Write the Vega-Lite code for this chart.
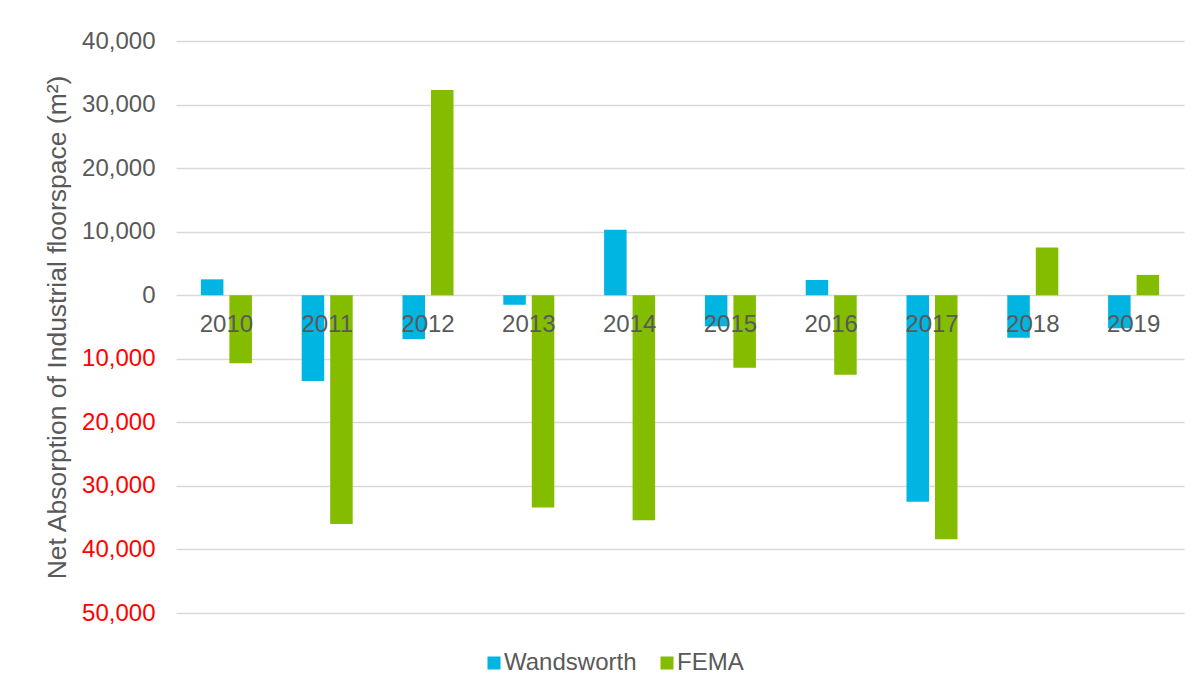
{
  "$schema": "https://vega.github.io/schema/vega-lite/v6.json",
  "autosize": {"type": "none"},
  "width": 1008,
  "height": 572,
  "padding": {"left": 176, "top": 41, "right": 19, "bottom": 80},
  "background": "white",
  "config": {
    "font": "Liberation Sans",
    "view": {"stroke": null}
  },
  "data": {
    "values": [
      {"year": "2010", "series": "Wandsworth", "value": 2500},
      {"year": "2010", "series": "FEMA", "value": -10700},
      {"year": "2011", "series": "Wandsworth", "value": -13500},
      {"year": "2011", "series": "FEMA", "value": -36000},
      {"year": "2012", "series": "Wandsworth", "value": -6900},
      {"year": "2012", "series": "FEMA", "value": 32300},
      {"year": "2013", "series": "Wandsworth", "value": -1500},
      {"year": "2013", "series": "FEMA", "value": -33400},
      {"year": "2014", "series": "Wandsworth", "value": 10300},
      {"year": "2014", "series": "FEMA", "value": -35400},
      {"year": "2015", "series": "Wandsworth", "value": -4900},
      {"year": "2015", "series": "FEMA", "value": -11400},
      {"year": "2016", "series": "Wandsworth", "value": 2400},
      {"year": "2016", "series": "FEMA", "value": -12500},
      {"year": "2017", "series": "Wandsworth", "value": -32500},
      {"year": "2017", "series": "FEMA", "value": -38400},
      {"year": "2018", "series": "Wandsworth", "value": -6700},
      {"year": "2018", "series": "FEMA", "value": 7500},
      {"year": "2019", "series": "Wandsworth", "value": -5200},
      {"year": "2019", "series": "FEMA", "value": 3200}
    ]
  },
  "mark": {"type": "bar"},
  "encoding": {
    "x": {
      "field": "year",
      "type": "nominal",
      "scale": {"paddingInner": 0.494, "paddingOuter": 0.247},
      "axis": {
        "title": null,
        "orient": "bottom",
        "offset": -318,
        "domain": false,
        "ticks": false,
        "labelAngle": 0,
        "labelFontSize": 24,
        "labelColor": "#595959",
        "labelPadding": 17,
        "zindex": 1
      }
    },
    "xOffset": {
      "field": "series",
      "type": "nominal",
      "sort": ["Wandsworth", "FEMA"],
      "scale": {"domain": ["Wandsworth", "FEMA"], "paddingInner": 0.21, "paddingOuter": 0}
    },
    "y": {
      "field": "value",
      "type": "quantitative",
      "scale": {"domain": [-50000, 40000], "nice": false},
      "axis": {
        "title": "Net Absorption of Industrial floorspace (m²)",
        "titleFontSize": 26.5,
        "titleFontWeight": "normal",
        "titleColor": "#595959",
        "titlePadding": 10,
        "values": [-50000, -40000, -30000, -20000, -10000, 0, 10000, 20000, 30000, 40000],
        "labelExpr": "format(abs(datum.value), ',')",
        "labelFontSize": 24,
        "labelColor": {"condition": {"test": "datum.value < 0", "value": "#FF0000"}, "value": "#595959"},
        "labelPadding": 21,
        "domain": false,
        "ticks": false,
        "grid": true,
        "gridColor": "#D9D9D9",
        "gridWidth": 1.3
      }
    },
    "color": {
      "field": "series",
      "type": "nominal",
      "sort": ["Wandsworth", "FEMA"],
      "scale": {"domain": ["Wandsworth", "FEMA"], "range": ["#00B5E2", "#84BD00"]},
      "legend": {
        "title": null,
        "orient": "none",
        "direction": "horizontal",
        "legendX": 306,
        "legendY": 610,
        "symbolType": "square",
        "symbolSize": 169,
        "symbolStrokeWidth": 0,
        "labelFontSize": 24,
        "labelColor": "#595959",
        "labelOffset": -2,
        "columnPadding": 18
      }
    }
  }
}
